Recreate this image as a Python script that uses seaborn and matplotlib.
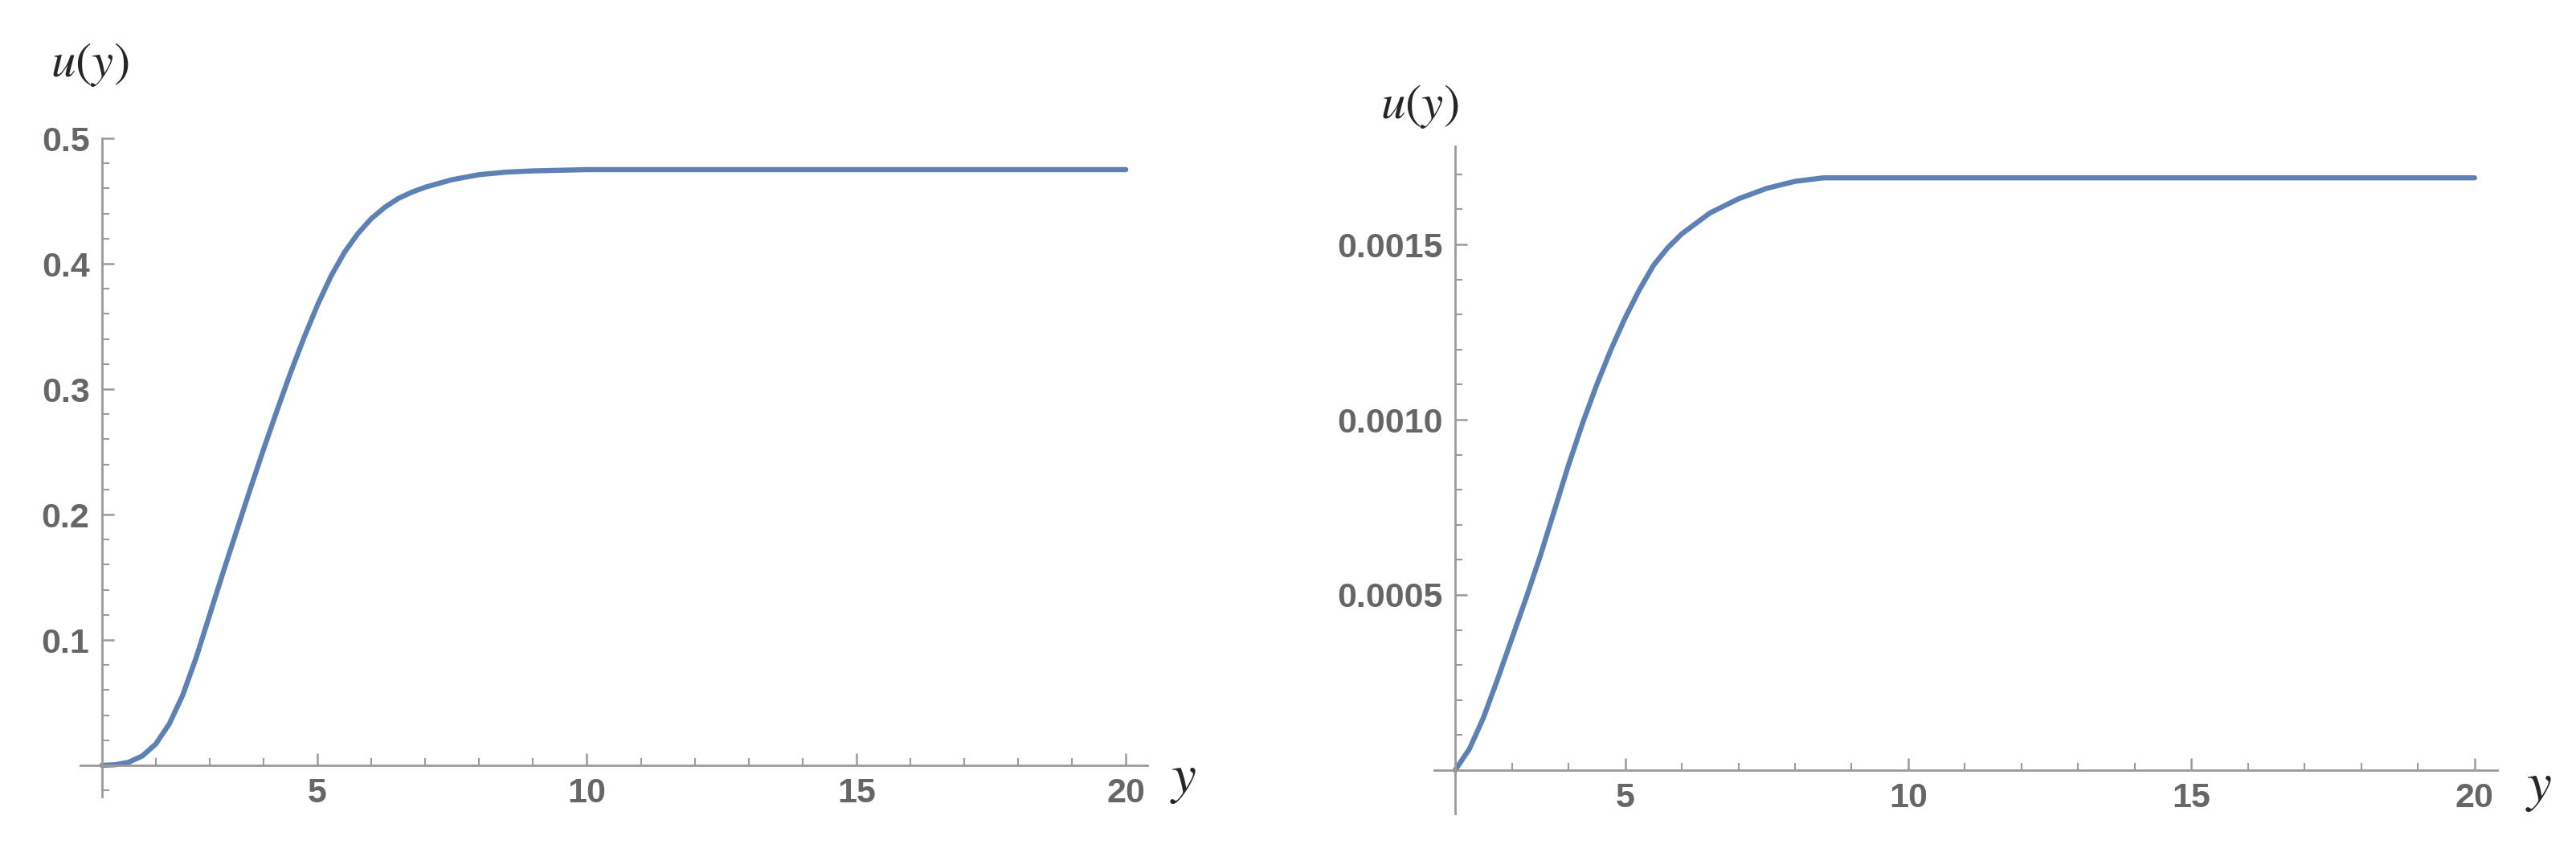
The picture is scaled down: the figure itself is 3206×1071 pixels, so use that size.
import numpy as np
import pandas as pd
import matplotlib
import matplotlib.pyplot as plt
from matplotlib.ticker import FixedLocator
import seaborn as sns

matplotlib.use('Agg')

# left panel: u(y)
left_y = [1.0, 1.25, 1.5, 1.75, 2.0, 2.25, 2.5, 2.75, 3.0, 3.25, 3.5, 3.75,
          4.0, 4.25, 4.5, 4.75, 5.0, 5.25, 5.5, 5.75, 6.0, 6.25, 6.5, 6.75, 7.0,
          7.5, 8.0, 8.5, 9.0, 10.0, 12.0, 15.0, 20.0]
left_u = [0.0, 0.0005, 0.0025, 0.0075, 0.017, 0.033, 0.056, 0.086, 0.12, 0.154,
          0.187, 0.22, 0.252, 0.283, 0.313, 0.341, 0.367, 0.39, 0.409, 0.424,
          0.436, 0.445, 0.452, 0.457, 0.461, 0.467, 0.471, 0.473, 0.474, 0.475,
          0.475, 0.475, 0.475]

# right panel
right_y = [2.0, 2.25, 2.5, 2.75, 3.0, 3.25, 3.5, 3.75, 4.0, 4.25, 4.5, 4.75,
           5.0, 5.25, 5.5, 5.75, 6.0, 6.25, 6.5, 6.75, 7.0, 7.5, 8.0, 8.5, 9.0,
           10.0, 12.0, 15.0, 20.0]
right_u = [0.0, 0.00006, 0.00015, 0.00026, 0.000375, 0.00049, 0.00061, 0.00074,
           0.00087, 0.00099, 0.0011, 0.0012, 0.00129, 0.00137, 0.00144, 0.00149,
           0.00153, 0.00156, 0.00159, 0.00161, 0.00163, 0.00166, 0.00168, 0.00169,
           0.00169, 0.00169, 0.00169, 0.00169, 0.00169]

left_yticks = [0.1, 0.2, 0.3, 0.4, 0.5]
left_yticklabels = ['0.1', '0.2', '0.3', '0.4', '0.5']
right_yticks = [0.0005, 0.0010, 0.0015]
right_yticklabels = ['0.0005', '0.0010', '0.0015']
xticks = [5, 10, 15, 20]

LINE = '#5E81B5'
AXIS = '#9a9a9a'
LABEL = '#666666'

sns.set_style('white')
plt.rcParams['font.family'] = ['Liberation Sans Narrow', 'Liberation Sans', 'DejaVu Sans']
plt.rcParams['mathtext.fontset'] = 'stix'

W, H = 3206, 1071
fig = plt.figure(figsize=(W / 100, H / 100), dpi=100)


def panel(px_left, px_right, px_top, px_bottom):
    return fig.add_axes([px_left / W, 1 - px_bottom / H,
                         (px_right - px_left) / W, (px_bottom - px_top) / H])


def style(ax, x0, xlim, ylim, yticks, ylabels, yminor, minor_start):
    ax.set_xlim(*xlim)
    ax.set_ylim(*ylim)
    for s in ['top', 'right']:
        ax.spines[s].set_visible(False)
    ax.spines['left'].set_position(('data', x0))
    ax.spines['bottom'].set_position(('data', 0))
    for s in ['left', 'bottom']:
        ax.spines[s].set_color(AXIS)
        ax.spines[s].set_linewidth(2)
    ax.set_xticks(xticks)
    ax.set_xticklabels([str(t) for t in xticks])
    ax.xaxis.set_minor_locator(FixedLocator([v for v in range(minor_start, 21) if v % 5]))
    ax.set_yticks(yticks)
    ax.set_yticklabels(ylabels)
    ax.yaxis.set_minor_locator(FixedLocator(yminor))
    ax.tick_params(which='both', bottom=True, left=True, top=False, right=False)
    ax.tick_params(which='major', direction='in', length=11, width=1.8, color=AXIS,
                   labelsize=31, labelcolor=LABEL, pad=11)
    ax.tick_params(which='minor', direction='in', length=6.5, width=1.5, color=AXIS)
    for lab in ax.get_xticklabels() + ax.get_yticklabels():
        lab.set_fontweight('bold')
    ax.set_xlabel('')
    ax.set_ylabel('')


ax1 = panel(100, 1428, 172, 991)
sns.lineplot(x=left_y, y=left_u, ax=ax1, color=LINE, linewidth=4.6)
style(ax1, 1, (0.6, 20.4), (-0.025, 0.5), left_yticks, left_yticklabels,
      [v for v in np.round(np.arange(-0.02, 0.5, 0.02), 3) if round(v * 100) % 10 != 0],
      2)

ax2 = panel(1785, 3108, 182, 1012)
sns.lineplot(x=right_y, y=right_u, ax=ax2, color=LINE, linewidth=4.6)
style(ax2, 2, (1.63, 20.4), (-0.000124, 0.00178), right_yticks, right_yticklabels,
      [v for v in np.round(np.arange(0.0001, 0.00175, 0.0001), 5)
       if round(v * 10000) % 5 != 0],
      3)

# axis labels placed like the original
fig.text(112 / W, 1 - 80 / H, r'$u(y)$', fontsize=44, ha='center', va='center')
fig.text(1473 / W, 1 - 970 / H, r'$y$', fontsize=50, ha='center', va='center')
fig.text(1767 / W, 1 - 133 / H, r'$u(y)$', fontsize=44, ha='center', va='center')
fig.text(3160 / W, 1 - 980 / H, r'$y$', fontsize=50, ha='center', va='center')

fig.savefig('out.png', dpi=100)
plt.close(fig)
